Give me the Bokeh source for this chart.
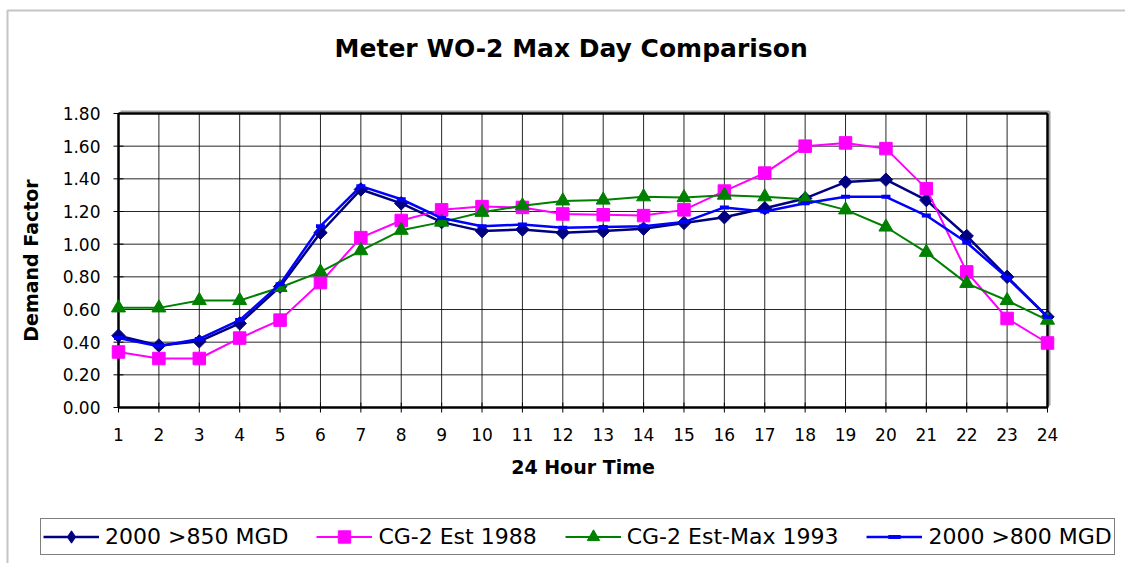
import math
from bokeh.plotting import figure
from bokeh.models import Legend, LegendItem, Range1d, Label, BoxAnnotation
from bokeh.core.properties import value
from bokeh.embed import file_html
from bokeh.resources import INLINE

# ---- data ----
hours = list(range(1, 25))
s_850 = [0.44, 0.38, 0.405, 0.515, 0.74, 1.07, 1.335, 1.25, 1.135, 1.08, 1.09, 1.07,
         1.08, 1.095, 1.13, 1.165, 1.22, 1.28, 1.38, 1.395, 1.27, 1.05, 0.80, 0.555]
s_1988 = [0.34, 0.30, 0.30, 0.425, 0.535, 0.765, 1.04, 1.145, 1.21, 1.23, 1.225, 1.185,
          1.18, 1.175, 1.21, 1.325, 1.435, 1.60, 1.62, 1.585, 1.34, 0.83, 0.545, 0.395]
s_1993 = [0.61, 0.61, 0.655, 0.655, 0.735, 0.83, 0.96, 1.085, 1.135, 1.195, 1.235, 1.265,
          1.27, 1.29, 1.285, 1.30, 1.29, 1.275, 1.21, 1.105, 0.95, 0.76, 0.655, 0.535]
s_800 = [0.425, 0.375, 0.42, 0.535, 0.755, 1.11, 1.355, 1.275, 1.16, 1.11, 1.12, 1.10,
         1.105, 1.11, 1.135, 1.225, 1.20, 1.25, 1.29, 1.29, 1.175, 1.01, 0.795, 0.555]
y_ticks = [0.0, 0.2, 0.4, 0.6, 0.8, 1.0, 1.2, 1.4, 1.6, 1.8]
y_tick_labels = ["0.00", "0.20", "0.40", "0.60", "0.80", "1.00", "1.20", "1.40", "1.60", "1.80"]
x_tick_labels = [str(h) for h in hours]
names = ["2000 >850 MGD", "CG-2 Est 1988", "CG-2 Est-Max 1993", "2000 >800 MGD"]
title_text = "Meter WO-2  Max Day Comparison"
x_label = "24 Hour Time"
y_label = "Demand Factor"

FONT = "DejaVu Sans"
W, H = 1125, 563
# plot area in pixels
PL, PR, PT, PB = 118, 1047, 113, 407
X0, X1 = hours[0], hours[-1]
Y0, Y1 = y_ticks[0], y_ticks[-1]
kx = (PR - PL) / (X1 - X0)
ky = (PB - PT) / (Y1 - Y0)

p = figure(width=W, height=H, min_border=0,
           x_range=Range1d(X0 - PL / kx, X1 + (W - PR) / kx),
           y_range=Range1d(Y0 - (H - PB) / ky, Y1 + PT / ky),
           x_axis_location=None, y_axis_location=None,
           output_backend="svg", toolbar_location=None,
           background_fill_color="white", border_fill_color="white")
p.outline_line_color = None
p.xgrid.visible = False
p.ygrid.visible = False

# outer chart-area border
p.add_layout(BoxAnnotation(left=7, right=W + 50, top=H - 10, bottom=-50,
                           left_units="screen", right_units="screen",
                           top_units="screen", bottom_units="screen",
                           fill_alpha=0, line_color="#404040", line_width=2))

# grid lines (from the tick arrays)
p.segment(x0=X0, y0=y_ticks, x1=X1, y1=y_ticks, line_color="black",
          line_alpha=0.85, line_width=1)
p.segment(x0=hours, y0=Y0, x1=hours, y1=Y1, line_color="black",
          line_alpha=0.85, line_width=1)
# light shadow of the plot area (top / right)
dx, dy = 2 / kx, 2 / ky
p.segment(x0=[X0 + dx, X1 + dx], y0=[Y1 + dy, Y0 + dy],
          x1=[X1 + dx, X1 + dx], y1=[Y1 + dy, Y1 + dy],
          line_color="#a0a0a0", line_width=2)
# plot-area border
p.segment(x0=[X0, X0, X0, X1], y0=[Y0, Y0, Y1, Y0],
          x1=[X1, X0, X1, X1], y1=[Y0, Y1, Y1, Y1],
          line_color="black", line_width=2.5)
# tick marks
p.scatter(x=X0, y=y_ticks, marker="dash", size=10, line_color="black", line_width=1)
p.scatter(x=hours, y=Y0, marker="dash", angle=math.pi / 2, size=10,
          line_color="black", line_width=1)
# tick labels
p.text(x=X0, y=y_ticks, text=y_tick_labels, x_offset=-18,
       text_align="right", text_baseline="middle", text_font=value(FONT),
       text_font_size="17px", text_color="black")
p.text(x=hours, y=Y0, text=x_tick_labels, y_offset=27,
       text_align="center", text_baseline="middle", text_font=value(FONT),
       text_font_size="17px", text_color="black")

# axis titles and chart title
p.add_layout(Label(x=(PL + PR) / 2, y=H - 466, x_units="screen", y_units="screen",
                   text=x_label, text_align="center", text_baseline="middle",
                   text_font=FONT, text_font_style="bold", text_font_size="19px",
                   text_color="black"))
p.add_layout(Label(x=30, y=H - (PT + PB) / 2, x_units="screen", y_units="screen",
                   text=y_label, angle=math.pi / 2, text_align="center",
                   text_baseline="middle", text_font=FONT, text_font_style="bold",
                   text_font_size="19px", text_color="black"))
p.add_layout(Label(x=575, y=H - 48, x_units="screen", y_units="screen",
                   text=title_text, text_align="center", text_baseline="alphabetic",
                   text_font=FONT, text_font_style="bold", text_font_size="25px",
                   text_color="black"))

# series
l1 = p.line(hours, s_850, line_color="#000080", line_width=2.5)
m1 = p.scatter(hours, s_850, marker="square", angle=math.pi / 4, size=9.5,
               fill_color="#000080", line_color="#000080")
l2 = p.line(hours, s_1988, line_color="#FF00FF", line_width=2)
m2 = p.scatter(hours, s_1988, marker="square", size=12.5,
               fill_color="#FF00FF", line_color="#FF00FF")
l3 = p.line(hours, s_1993, line_color="#008000", line_width=2)
m3 = p.scatter(hours, s_1993, marker="triangle", size=14,
               fill_color="#008000", line_color="#008000")
l4 = p.line(hours, s_800, line_color="#0000FF", line_width=2.5)
m4 = p.scatter(hours, s_800, marker="dash", size=9, line_width=4,
               line_color="#0000FF")
# legend-only diamond (the rotated square is not rotated in legends)
d1 = p.scatter(x=[float("nan")], y=[float("nan")], marker="diamond", size=14,
               fill_color="#000080", line_color="#000080")

legend = Legend(items=[
    LegendItem(label=names[0], renderers=[l1, d1]),
    LegendItem(label=names[1], renderers=[l2, m2]),
    LegendItem(label=names[2], renderers=[l3, m3]),
    LegendItem(label=names[3], renderers=[l4, m4]),
], orientation="horizontal", location=(40, H - 555),
    label_text_font=FONT, label_text_font_size="22px", label_text_color="black",
    glyph_width=56, glyph_height=31, label_standoff=6, spacing=28,
    padding=2, margin=0, border_line_color="black", border_line_width=1,
    background_fill_color="white", background_fill_alpha=1.0)
p.add_layout(legend, "center")

open("out.html", "w").write(file_html(p, INLINE))
